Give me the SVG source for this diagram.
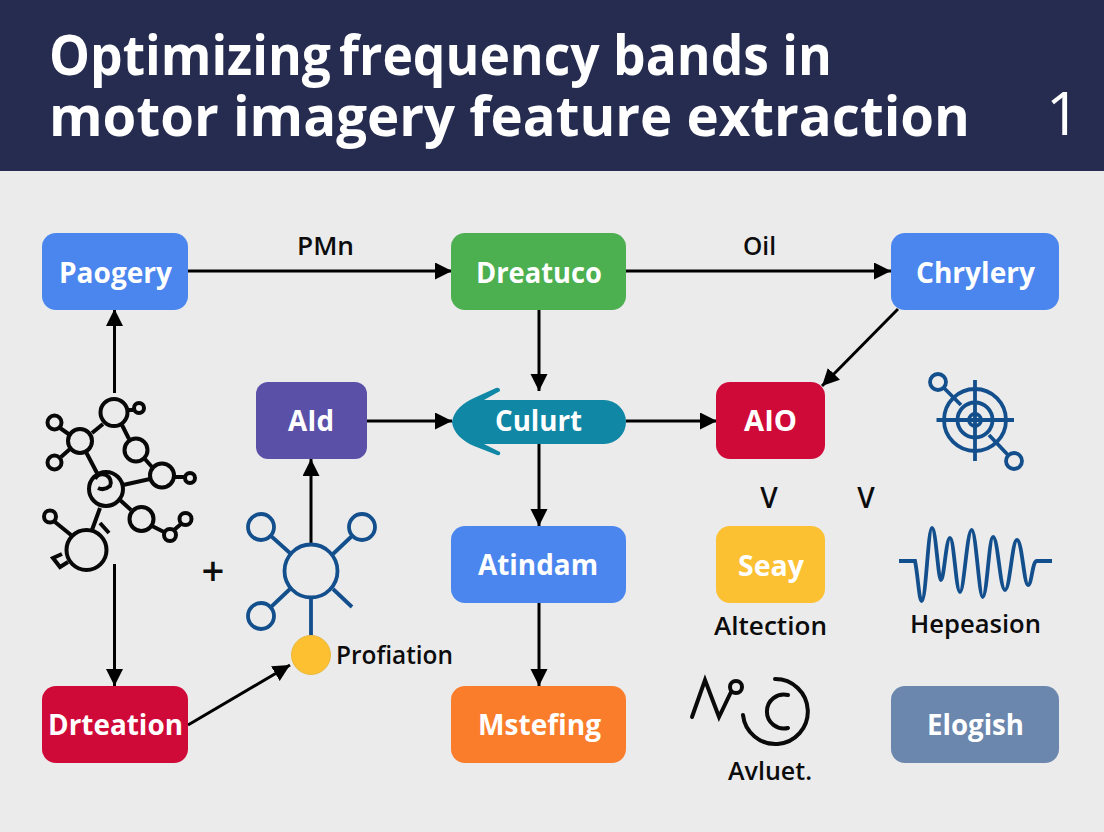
<svg xmlns="http://www.w3.org/2000/svg" width="1104" height="832" viewBox="0 0 1104 832">
<defs>
<marker id="arr" markerUnits="userSpaceOnUse" markerWidth="19" markerHeight="18" refX="17" refY="8.500" orient="auto"><path d="M0,0L17,8.500L0,17Z" fill="#000"/></marker>
</defs>
<style>
text{font-family:"Open Sans","Noto Sans","Liberation Sans",sans-serif}
.t{fill:#fff;font-weight:700;font-size:28px;text-anchor:middle}
.l{fill:#0c0c0c;font-weight:600;font-size:26px;text-anchor:middle}
.h{fill:#fff;font-weight:700;font-size:56px}
.c{fill:none;stroke:#000;stroke-width:3}
.k{fill:none;stroke:#080808;stroke-width:4}
.b{fill:none;stroke:#134f8c;stroke-width:3.800}
</style>
<rect width="1104" height="832" fill="#ebebec"/>
<g id="header">
<rect width="1104" height="171" fill="#262c4f"/>
<text class="h"><tspan x="49" y="75" textLength="282" lengthAdjust="spacingAndGlyphs">Optimizing</tspan><tspan x="339" y="75" textLength="493" lengthAdjust="spacingAndGlyphs">frequency bands in</tspan><tspan x="49" y="136" textLength="921" lengthAdjust="spacingAndGlyphs">motor imagery feature extraction</tspan></text>
<text class="h" x="1046" y="135" style="font-weight:500;font-size:60px">1</text>
</g>
<g id="connectors">
<path class="c" marker-end="url(#arr)" d="M188,271H452"/>
<path class="c" marker-end="url(#arr)" d="M626,271H891"/>
<path class="c" marker-end="url(#arr)" d="M539,310V391"/>
<path class="c" marker-end="url(#arr)" d="M898,309L822,386"/>
<path class="c" marker-end="url(#arr)" d="M367,421H452"/>
<path class="c" marker-end="url(#arr)" d="M626,421H717"/>
<path class="c" marker-end="url(#arr)" d="M539,440V526"/>
<path class="c" marker-end="url(#arr)" d="M539,603V686"/>
<path class="c" marker-end="url(#arr)" d="M114.500,393V309"/>
<path class="c" marker-end="url(#arr)" d="M114.500,564V686"/>
<path class="c" marker-end="url(#arr)" d="M311,544V459"/>
<path class="c" marker-end="url(#arr)" d="M188,725L290,665"/>
</g>
<text class="l" x="325.500" y="255" textLength="57" lengthAdjust="spacingAndGlyphs">PMn</text>
<text class="l" x="759.500" y="255" textLength="33" lengthAdjust="spacingAndGlyphs">Oil</text>
<g id="n1"><rect x="42" y="233" width="146" height="77" rx="14" fill="#4a86ee"/><text class="t" x="115.500" y="283" textLength="113" lengthAdjust="spacingAndGlyphs">Paogery</text></g>
<g id="n2"><rect x="451" y="233" width="175" height="77" rx="14" fill="#4caf50"/><text class="t" x="539" y="283" textLength="126" lengthAdjust="spacingAndGlyphs">Dreatuco</text></g>
<g id="n3"><rect x="891" y="233" width="168" height="77" rx="14" fill="#4a86ee"/><text class="t" x="975.500" y="283" textLength="119" lengthAdjust="spacingAndGlyphs">Chrylery</text></g>
<g id="n4"><rect x="256" y="382" width="111" height="77" rx="12" fill="#5b50a8"/><text class="t" x="311" y="431" textLength="46" lengthAdjust="spacingAndGlyphs">AId</text></g>
<g id="n5"><path d="M452,422C454,410 463,403 474,398L496,388Q500,387 500,391L484,400H604A22,22 0 0 1 604,444H484L500,452Q501,456 497,455L474,446C462,441 453,432 452,422Z" fill="#0f87a5"/><text class="t" x="538.500" y="431" textLength="87" lengthAdjust="spacingAndGlyphs">Culurt</text></g>
<g id="n6"><rect x="716" y="382" width="109" height="77" rx="14" fill="#cf0a38"/><text class="t" x="770.500" y="431" textLength="53" lengthAdjust="spacingAndGlyphs">AIO</text></g>
<g id="n7"><rect x="451" y="526" width="175" height="77" rx="14" fill="#4a86ee"/><text class="t" x="538" y="575" textLength="120" lengthAdjust="spacingAndGlyphs">Atindam</text></g>
<g id="n8"><rect x="716" y="526" width="109" height="77" rx="14" fill="#fcc033"/><text class="t" x="771" y="576" textLength="66" lengthAdjust="spacingAndGlyphs">Seay</text></g>
<g id="n9"><rect x="42" y="686" width="146" height="77" rx="14" fill="#cf0a38"/><text class="t" x="115.500" y="735" textLength="135" lengthAdjust="spacingAndGlyphs">Drteation</text></g>
<g id="n10"><rect x="451" y="686" width="175" height="77" rx="14" fill="#fa7d2c"/><text class="t" x="539.500" y="735" textLength="123" lengthAdjust="spacingAndGlyphs">Mstefing</text></g>
<g id="n11"><rect x="891" y="686" width="168" height="77" rx="14" fill="#6b87ad"/><text class="t" x="975.500" y="735" textLength="97" lengthAdjust="spacingAndGlyphs">Elogish</text></g>
<g id="molecule" class="k">
<circle cx="114" cy="412.500" r="13.500"/><circle cx="139" cy="408" r="5"/><circle cx="54.500" cy="422.500" r="7"/><circle cx="80" cy="441" r="12"/><circle cx="54.500" cy="462.500" r="7"/><circle cx="136" cy="450" r="11.500"/><circle cx="162" cy="475.500" r="12"/><circle cx="190" cy="478" r="5"/><circle cx="106" cy="489" r="17"/><path d="M95,479A8,8 0 1 1 110,486Q104,491 98,488"/><circle cx="141.500" cy="519" r="12"/><circle cx="170" cy="535" r="6"/><circle cx="185.500" cy="519" r="6"/><circle cx="50" cy="516.500" r="6"/><circle cx="86.500" cy="550" r="20"/>
<path d="M127,410H133M60,428L70,435M61,457L70,449M92,433L103,424M122,425L129,439M144,458L152,467M174,477H185M86,452L97,473M123,485L150,479M120,500L131,510M152,526L164,532M174,530L181,524M55,522L71,535M100,508L92,530M100,523L109,533M62,554L53,558L60,567L68,562"/>
</g>
<text x="213" y="585" style="font-size:40px;font-weight:600;text-anchor:middle;fill:#0c0c0c">+</text>
<g id="hub" class="b">
<circle cx="311" cy="571" r="26.500"/><circle cx="261" cy="527" r="13"/><circle cx="362" cy="527" r="13"/><circle cx="261" cy="616" r="13"/>
<path d="M271,536L291,554M352,536L333,554M271,607L290,589M333,589L352,607M311,598V636"/>
</g>
<g id="dot"><circle cx="311" cy="655" r="19.500" fill="#fcc030" stroke="#e8b840"/><text class="l" x="394.500" y="664" textLength="117" lengthAdjust="spacingAndGlyphs">Profiation</text></g>
<g id="target" class="b">
<circle cx="975" cy="420" r="31"/><circle cx="975" cy="420" r="17.500"/><circle cx="975" cy="420" r="6"/><circle cx="938" cy="382" r="8"/><circle cx="1014" cy="461" r="8"/>
<path d="M936.500,420H1014M975,380V461M944,388L961,405M989,435L1008,455"/>
</g>
<text class="l" x="769" y="508" style="font-size:28px">V</text>
<text class="l" x="866" y="508" style="font-size:28px">V</text>
<g id="wave">
<path class="b" d="M899,561H915C918,575 919,601 921.700,601C926,601 928,528 932,528C936,528 938,580 941,580C944,580 946,538 950,538C954,538 956,592 960,592C964,592 967,530 971.700,530C976,530 979,597 982.700,597C987,597 989,537 993,537C998,537 1000,590 1005,590C1010,590 1012,540 1017,540C1022,540 1024,585 1028,585C1032,585 1032,561 1037,561H1052"/>
<text class="l" x="975.500" y="633" textLength="131" lengthAdjust="spacingAndGlyphs">Hepeasion</text>
</g>
<text class="l" x="770.500" y="635" textLength="113" lengthAdjust="spacingAndGlyphs">Altection</text>
<g id="glyph" style="fill:none;stroke:#0a0a0a;stroke-width:4;stroke-linecap:round">
<path d="M692,717L705,680L719,717L731,692"/><circle cx="736" cy="687" r="6"/>
<path d="M775,679A32.500,32.500 0 1 1 743,715"/><path d="M788,695A17,17 0 1 0 788,728"/>
</g>
<text class="l" x="770" y="780" textLength="84" lengthAdjust="spacingAndGlyphs">Avluet.</text>
</svg>
